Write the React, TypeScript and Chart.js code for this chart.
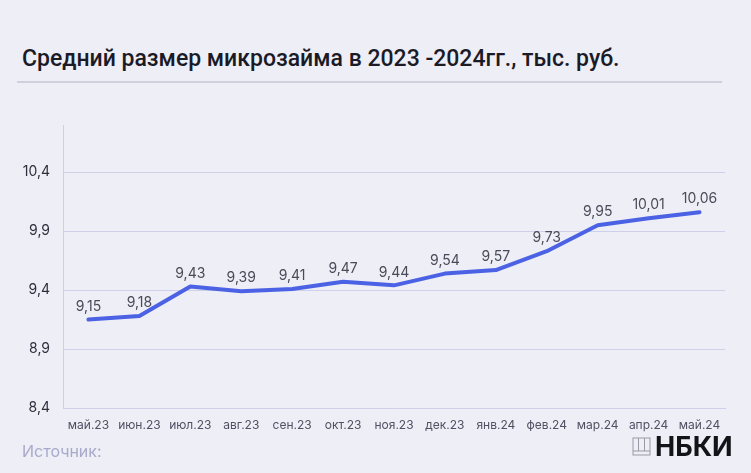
import React, { useEffect, useRef } from "react";
import { Chart, registerables } from "chart.js";

Chart.register(...registerables);

const categories = ["май.23", "июн.23", "июл.23", "авг.23", "сен.23", "окт.23", "ноя.23", "дек.23", "янв.24", "фев.24", "мар.24", "апр.24", "май.24"];
const values = [9.15, 9.18, 9.43, 9.39, 9.41, 9.47, 9.44, 9.54, 9.57, 9.73, 9.95, 10.01, 10.06];
const yTicks = [8.4, 8.9, 9.4, 9.9, 10.4];
const yMin = 8.4;
const yMax = 10.8;

const fmt = (v: number) => v.toFixed(2).replace(".", ",");
const fmtTick = (v: number) => v.toFixed(1).replace(".", ",");

const labelPlugin = {
  id: "pointLabels",
  afterDatasetsDraw(chart: any) {
    const { ctx } = chart;
    const meta = chart.getDatasetMeta(0);
    ctx.save();
    ctx.font = "14px Inter";
    ctx.fillStyle = "#4a4b58";
    ctx.textAlign = "center";
    ctx.textBaseline = "bottom";
    meta.data.forEach((el: any, i: number) => {
      ctx.fillText(fmt(values[i]), el.x, el.y - 6);
    });
    ctx.restore();
  },
};

export default function App() {
  const ref = useRef<HTMLCanvasElement>(null);
  useEffect(() => {
    document.body.style.margin = "0";
    document.body.style.background = "#eeeef6";
    const chart = new Chart(ref.current!, {
      type: "line",
      data: {
        labels: categories,
        datasets: [
          {
            data: values,
            borderColor: "#4b62e4",
            borderWidth: 4,
            pointRadius: 0,
            tension: 0,
            borderJoinStyle: "round",
            borderCapStyle: "round",
          },
        ],
      },
      options: {
        animation: false,
        responsive: false,
        maintainAspectRatio: false,
        layout: { padding: { top: 125, right: 26, left: 0, bottom: 0 } },
        plugins: { legend: { display: false }, tooltip: { enabled: false }, title: { display: false } },
        scales: {
          x: {
            offset: true,
            grid: { display: false, drawTicks: false },
            border: { display: true, color: "#cdd0e8", width: 1 },
            ticks: { color: "#4f5062", font: { family: "Inter", size: 12 }, padding: 10, maxRotation: 0, autoSkip: false },
            afterFit: (s: any) => { s.height = 65; },
          },
          y: {
            min: yMin,
            max: yMax,
            afterBuildTicks: (s: any) => { s.ticks = yTicks.map((v) => ({ value: v })); },
            grid: { color: "#cdd0e8", drawTicks: false, lineWidth: 1 },
            border: { display: true, color: "#cdd0e8", width: 1 },
            ticks: { color: "#2e2f3d", font: { family: "Inter", size: 14 }, padding: 13, callback: (v: any) => fmtTick(Number(v)) },
            afterFit: (s: any) => { s.width = 63; },
          },
        },
      },
      plugins: [labelPlugin],
    } as any);
    return () => chart.destroy();
  }, []);

  return (
    <div style={{ position: "relative", width: 751, height: 473, background: "#eeeef6", overflow: "hidden", fontFamily: "Inter" }}>
      <div style={{ position: "absolute", left: 22, top: 45, fontFamily: "Roboto", fontWeight: 500, fontSize: 23, color: "#1b1b28", whiteSpace: "nowrap", lineHeight: "28px" }}>
        Средний размер микрозайма в 2023 -2024гг., тыс. руб.
      </div>
      <div style={{ position: "absolute", left: 17, top: 81, width: 705, height: 2, background: "#cfd0dc" }} />
      <canvas ref={ref} width={751} height={473} style={{ position: "absolute", left: 0, top: 0 }} />
      <div style={{ position: "absolute", left: 22, top: 441, fontFamily: "Inter", fontSize: 16, color: "#a8aacb" }}>Источник:</div>
      <svg style={{ position: "absolute", left: 632, top: 437 }} width={20} height={20} viewBox="0 0 20 20">
        <rect x={1} y={1} width={17} height={17} fill="none" stroke="#9a9aa6" strokeWidth={1} />
        <line x1={6.5} y1={1} x2={6.5} y2={14} stroke="#9a9aa6" strokeWidth={1} />
        <line x1={12.5} y1={1} x2={12.5} y2={14} stroke="#9a9aa6" strokeWidth={1} />
        <line x1={1} y1={14} x2={18} y2={14} stroke="#9a9aa6" strokeWidth={1} />
      </svg>
      <div style={{ position: "absolute", left: 655, top: 432, fontFamily: "Inter", fontWeight: 700, fontSize: 27, color: "#141418", lineHeight: "30px" }}>НБКИ</div>
    </div>
  );
}
